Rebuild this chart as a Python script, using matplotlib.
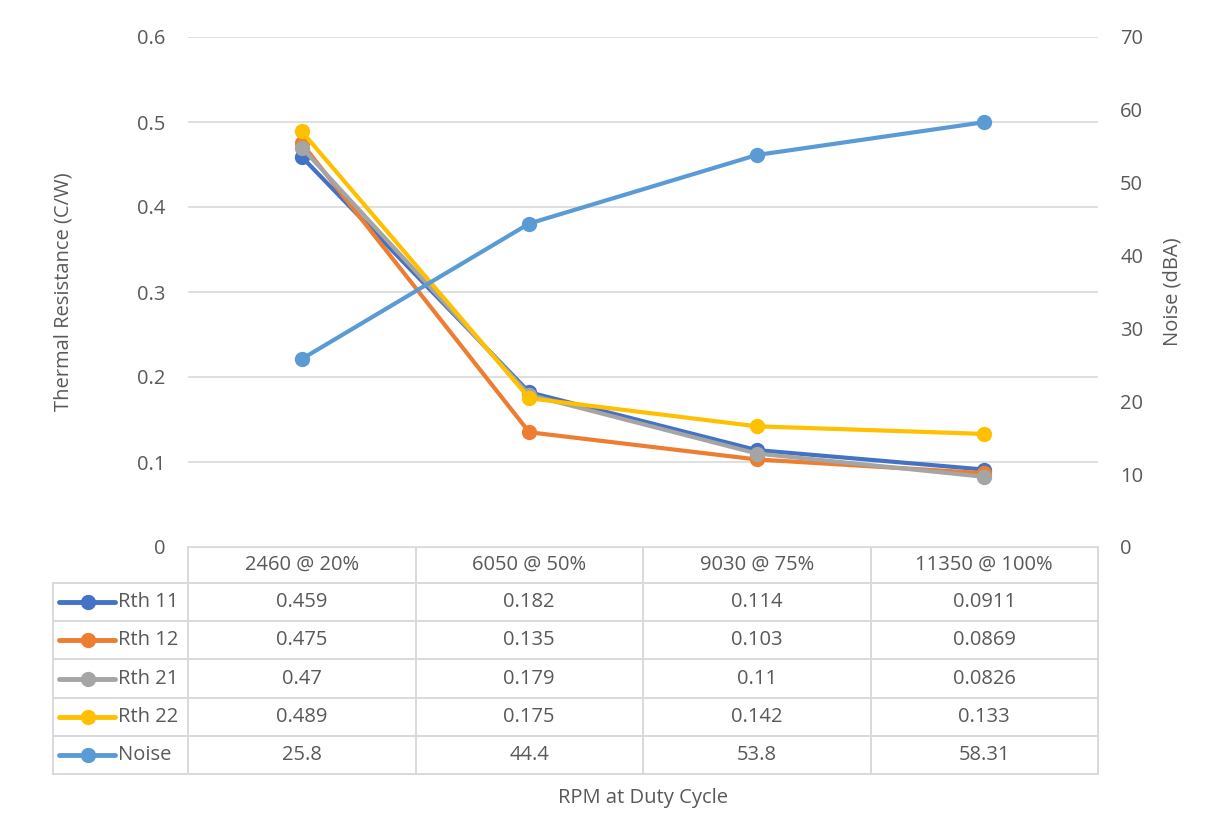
import matplotlib.pyplot as plt
from matplotlib.lines import Line2D

plt.rcParams['font.family'] = ['Open Sans', 'DejaVu Sans']

categories = ["2460 @ 20%", "6050 @ 50%", "9030 @ 75%", "11350 @ 100%"]
rth11 = [0.459, 0.182, 0.114, 0.0911]
rth12 = [0.475, 0.135, 0.103, 0.0869]
rth21 = [0.47, 0.179, 0.11, 0.0826]
rth22 = [0.489, 0.175, 0.142, 0.133]
noise = [25.8, 44.4, 53.8, 58.31]

series_names = ["Rth 11", "Rth 12", "Rth 21", "Rth 22", "Noise"]
series_vals = [rth11, rth12, rth21, rth22, noise]
colors = ["#4472C4", "#ED7D31", "#A5A5A5", "#FFC000", "#5B9BD5"]

W, H = 1205, 840
txt = "#595959"
grid = "#D9D9D9"
fs = 14.5

fig = plt.figure(figsize=(W / 100, H / 100), dpi=100)

# plot area in pixels
px_l, px_r, px_t, px_b = 188, 1098, 37, 547
rect = [px_l / W, 1 - px_b / H, (px_r - px_l) / W, (px_b - px_t) / H]

ax = fig.add_axes(rect)
ax2 = ax.twinx()
x = list(range(len(categories)))

for name, vals, c in zip(series_names[:4], series_vals[:4], colors[:4]):
    ax.plot(x, vals, color=c, lw=3, marker="o", ms=10, label=name, zorder=3)
ax2.plot(x, noise, color=colors[4], lw=3, marker="o", ms=10, zorder=3)

ax.set_xlim(-0.5, len(categories) - 0.5)
ax.set_ylim(0, 0.6)
ax.set_yticks([0, 0.1, 0.2, 0.3, 0.4, 0.5, 0.6])
ax.set_yticklabels(["0", "0.1", "0.2", "0.3", "0.4", "0.5", "0.6"])
ax2.set_ylim(0, 70)
ax2.set_yticks(range(0, 71, 10))
ax.yaxis.grid(True, color=grid, lw=1.2)
ax.set_axisbelow(True)
ax.set_xticks([])
for a in (ax, ax2):
    for s in a.spines.values():
        s.set_visible(False)
    a.tick_params(length=0, labelsize=fs, colors=txt)
ax.tick_params(axis="y", pad=16)
ax2.tick_params(axis="y", pad=16)
ax.set_ylabel("Thermal Resistance (C/W)", fontsize=fs, color=txt, labelpad=46)
ax2.set_ylabel("Noise (dBA)", fontsize=fs, color=txt, labelpad=14)

# data table below the plot
tab = fig.add_axes([0, 0, 1, 1], zorder=-1)
tab.set_xlim(0, W)
tab.set_ylim(H, 0)
tab.axis("off")

col_w = (px_r - px_l) / len(categories)
row_top = px_b
head_h = 36
row_h = 38.2
leg_l = 53
n_rows = len(series_names)
tab_bot = row_top + head_h + n_rows * row_h

lc = dict(color=grid, lw=1.4)
# horizontal lines
tab.plot([px_l, px_r], [row_top, row_top], **lc)
for i in range(n_rows + 1):
    yy = row_top + head_h + i * row_h
    tab.plot([leg_l, px_r], [yy, yy], **lc)
# vertical lines
tab.plot([leg_l, leg_l], [row_top + head_h, tab_bot], **lc)
for j in range(len(categories) + 1):
    xx = px_l + j * col_w
    tab.plot([xx, xx], [row_top, tab_bot], **lc)

for j, cat in enumerate(categories):
    tab.text(px_l + (j + 0.5) * col_w, row_top + head_h / 2, cat,
             ha="center", va="center", fontsize=fs, color=txt)

for i, (name, vals, c) in enumerate(zip(series_names, series_vals, colors)):
    yc = row_top + head_h + (i + 0.5) * row_h
    tab.add_line(Line2D([59, 115], [yc, yc], color=c, lw=3.5, solid_capstyle="round"))
    tab.plot([88], [yc], marker="o", ms=10, color=c)
    tab.text(118, yc, name, ha="left", va="center", fontsize=fs, color=txt)
    for j, v in enumerate(vals):
        tab.text(px_l + (j + 0.5) * col_w, yc, str(v),
                 ha="center", va="center", fontsize=fs, color=txt)

tab.text((px_l + px_r) / 2 - 0, 798, "RPM at Duty Cycle",
         ha="center", va="center", fontsize=fs, color=txt)

fig.savefig("out.png", dpi=100)
